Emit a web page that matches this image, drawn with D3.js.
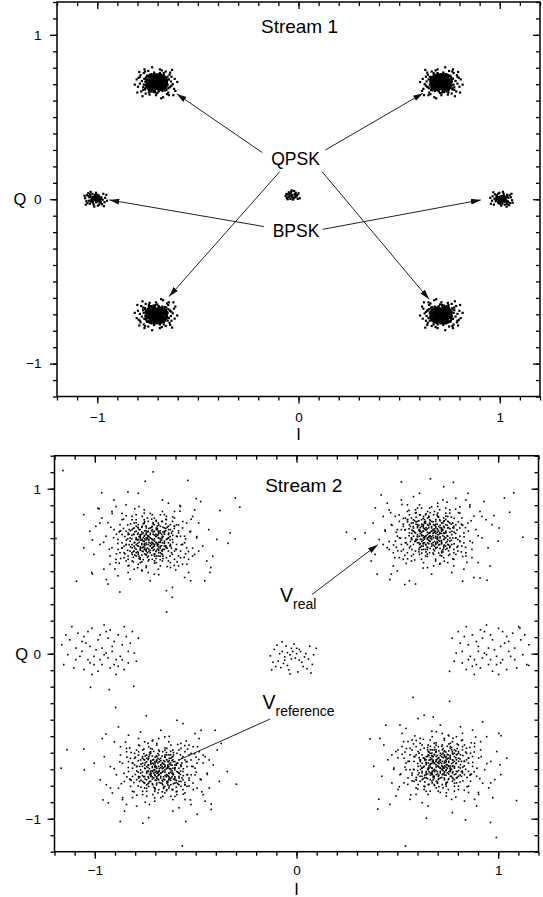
<!DOCTYPE html>
<html>
<head>
<meta charset="utf-8">
<script src="https://cdn.jsdelivr.net/npm/d3@7"></script>
<style>
  body { margin: 0; background: #fff; }
  svg { display: block; font-family: "Liberation Sans", Arial, sans-serif; }
  .tick line { stroke: #000; stroke-width: 1.3; }
  .frame { fill: none; stroke: #000; stroke-width: 1.5; }
  .arrow { stroke: #222; stroke-width: 1; fill: none; }
</style>
</head>
<body>
<svg id="chart" width="543" height="897"></svg>
<script>
// axis ticks
const majorTicks = [-1, 0, 1];
const axisDomain = [-1.2, 1.2];

// constellation points (centres in I/Q units)
const s1Qpsk = [[-0.708, 0.71], [0.71, 0.71], [-0.708, -0.704], [0.71, -0.704]];
const s1Bpsk = [[-1.009, 0.0], [1.01, 0.0]];
const s1Mid = [-0.03, 0.024];

const s2Qpsk = [[-0.725, 0.682], [0.67, 0.722], [-0.673, -0.704], [0.713, -0.673]];
const s2Bpsk = [[-0.974, 0.024], [0.962, 0.024]];
const s2Mid = [-0.019, -0.026];

// scatter around a cluster centre, in hundredths of a unit
const wideOffsets = [
  [2,-3],[-5,4],[8,1],[-1,-9],[12,-6],[-7,-2],[3,7],[-11,5],[0,2],[6,-12],
  [-4,-6],[9,9],[-14,-1],[1,-4],[-3,11],[15,3],[-8,8],[5,-7],[-2,-15],[10,-2],
  [-6,1],[4,4],[-9,-8],[13,10],[-1,6],[7,-5],[-16,-5],[2,14],[-12,-12],[18,-4],
  [0,-7],[-5,-11],[11,6],[-3,3],[6,12],[-10,2],[4,-17],[-18,7],[14,-9],[-2,-1],
  [8,-10],[-7,13],[1,9],[-13,-3],[16,-14],[-4,-18],[9,2],[-20,-9],[3,-1],[-9,15],
  [20,6],[-6,-14],[5,16],[-15,10],[12,14],[-1,-12],[7,8],[-11,-15],[17,-1],[-3,19],
  [2,-20],[-17,-13],[10,-16],[-8,4],[22,-8],[-22,3],[6,3],[-5,7],[13,-2],[-14,13],
  [1,1],[-2,5],[4,-2],[-6,-3],[3,-9],[-9,-4],[7,5],[-4,9],[10,7],[-7,-9],
  [5,0],[-3,-5],[0,8],[8,-4],[-10,-6],[11,1],[-1,-2],[6,-8],[-12,6],[2,10],
  [-8,-1],[9,-6],[-5,2],[4,11],[-13,-10],[14,5],[-2,-8],[12,-11],[-6,10],[3,-13],
  [24,11],[-25,-2],[19,-19],[-19,18],[26,-3],[-23,-17],[15,21],[-10,-23],[21,15],[-27,9],
  [0,-24],[9,23],[-16,-21],[28,-12],[-24,14],[17,-22],[-12,22],[23,2],[-28,-8],[6,25],
  [-1,3],[3,-6],[-7,6],[6,2],[-4,-4],[1,-11],[-10,0],[9,4],[-3,13],[11,-8],
  [2,6],[-6,-7],[7,-1],[-8,11],[5,9],[-11,-11],[13,3],[-2,-16],[15,-6],[-14,4],
  [4,-5],[-1,12],[10,-13],[-9,7],[8,13],[-15,-7],[16,8],[-5,-13],[1,16],[-12,-2],
  [30,-16],[-30,6],[25,24],[-21,-26],[11,-28],[-26,20],[29,7],[-18,25],[27,-24],[-29,-19],
  [3,3],[-3,0],[0,-3],[5,5],[-5,-5],[7,-3],[-7,1],[2,-8],[-2,8],[9,-1],
  [-4,15],[14,-15],[-16,1],[6,18],[-8,-17],[18,11],[-19,-4],[12,18],[-11,-19],[19,-11],
  [1,-1],[-1,1],[4,2],[-3,-2],[2,-5],[-5,3],[6,-1],[-6,5],[3,8],[-8,-6],
  [20,-24],[-20,-14],[22,19],[-17,21],[33,1],[-33,-4],[8,-30],[-6,29],[24,-6],[-25,11],
  [7,6],[-6,-8],[10,-3],[-11,4],[4,-9],[-3,11],[12,9],[-13,-7],[9,-12],[-9,13],
  [0,4],[5,-3],[-2,-6],[3,12],[-14,-4],[15,-10],[-7,16],[11,12],[-1,-19],[17,3],
  [1,7],[-4,1],[6,-6],[-9,-12],[2,-2],[-6,8],[13,-5],[-15,6],[8,15],[-11,-9],
  [-2,2],[4,6],[-8,-3],[10,10],[-5,-10],[16,-2],[-17,-11],[5,-15],[-3,17],[21,-9]
];

const sparseOffsets = [
  [2,3],[-5,-2],[8,6],[-10,4],[4,-7],[-3,9],[11,-3],[-8,-8],[1,-1],[6,1],
  [-12,-1],[14,8],[-6,6],[3,-11],[-15,-6],[9,-9],[-1,13],[17,2],[-18,9],[5,11],
  [-4,-13],[12,12],[-9,1],[0,6],[7,-5],[-13,11],[15,-4],[-7,-4],[2,-15],[10,4],
  [-2,0],[4,5],[-11,-10],[16,-11],[-16,3],[8,15],[-5,8],[13,-8],[-14,-14],[1,9],
  [6,-2],[-3,4],[9,10],[-9,-5],[3,2],[-1,-6],[11,6],[-6,-11],[18,7],[-19,-3],
  [0,-9],[-8,12],[5,-12],[14,1],[-12,6],[7,9],[-17,-9],[19,-7],[-4,15],[12,-14]
];

// stray points of stream 2 (I, Q)
const s2Stray = [
  [-1.158,1.11],[-0.711,1.102],[-0.539,1.05],[-0.75,1.045],[-0.966,0.975],[-0.836,0.981],
  [-0.497,0.94],[-0.303,0.944],[-0.281,0.888],[-0.38,0.868],[-1.055,0.843],[-0.979,0.878],
  [-1.193,0.698],[-1.012,0.69],[-0.339,0.669],[-0.329,0.732],[-0.415,0.59],[-0.429,0.493],
  [-1.012,0.483],[-1.091,0.439],[-0.943,0.449],[-0.876,0.374],[-0.616,0.342],[-0.644,0.253],
  [-0.578,0.898],[0.391,0.884],[0.248,0.736],[0.291,0.696],[0.52,1.041],[0.664,1.06],
  [0.778,1.039],[1.031,0.944],[1.077,0.975],[1.057,0.857],[0.979,0.837],[1.122,0.706],
  [1.005,0.762],[0.945,0.445],[0.91,0.459],[0.824,0.439],[0.537,0.419],[0.463,0.449],
  [1.108,0.156],[1.151,-0.071],[0.759,-0.107],[0.578,-0.265],[0.759,-0.289],[0.678,-0.384],
  [0.365,-0.516],[0.408,-0.882],[0.403,-0.942],[0.644,-0.997],[0.838,-1.007],[0.962,-1.023],
  [0.991,-1.114],[0.54,-1.165],[1.091,-0.89],[1.009,-0.673],[1.014,-0.497],[-0.566,-1.165],
  [-0.762,-1.027],[-0.874,-1.017],[-0.549,-1.017],[-0.492,-0.973],[-0.298,-0.791],[-0.423,-0.912],
  [-0.96,-0.886],[-1.052,-0.704],[-1.138,-0.582],[-1.167,-0.694],[-1.055,-0.578],[-0.945,-0.487],
  [-0.897,-0.326],[-0.745,-0.376],[-1.021,-0.204],[-0.928,-0.218],[-0.807,-0.198]
];

// each cluster: centre, offset table, spread, count, mirror
function cloud(center, table, spread, n, flip) {
  return table.slice(0, n).map(([dx, dy]) => [
    center[0] + flip[0] * dx * 0.01 * spread,
    center[1] + flip[1] * dy * 0.01 * spread
  ]);
}
const flips = [[1, 1], [-1, 1], [1, -1], [-1, -1]];

const stream1 = [].concat(
  ...s1Qpsk.map((c, i) => cloud(c, wideOffsets, 0.32, wideOffsets.length, flips[i])),
  ...s1Qpsk.map((c, i) => cloud(c, wideOffsets, 0.2, 120, flips[3 - i])),
  ...s1Bpsk.map((c, i) => cloud(c, sparseOffsets, 0.3, 50, flips[i + 1])),
  ...s1Bpsk.map((c, i) => cloud(c, sparseOffsets, 0.15, 20, flips[i])),
  cloud(s1Mid, sparseOffsets, 0.2, 30, flips[3])
);

const stream2 = [].concat(
  ...s2Qpsk.map((c, i) => cloud(c, wideOffsets, 1.0, wideOffsets.length, flips[i])),
  ...s2Qpsk.map((c, i) => cloud(c, wideOffsets, 0.7, wideOffsets.length, flips[3 - i])),
  ...s2Bpsk.map((c, i) => cloud(c, sparseOffsets, 1.0, sparseOffsets.length, flips[i + 2])),
  cloud(s2Mid, sparseOffsets, 0.65, 42, flips[1]),
  s2Stray
);

const panels = [
  {
    title: "Stream 1", points: stream1, dot: 2.2,
    x: [57, 540], y: [396.5, 2], padX: 8.5, padY: 8.5,
    titlePos: [299.5, 33.3], qPos: [20, 205], iPos: [298.5, 440],
    labels: [
      {text: "QPSK", x: 295.5, y: 165, size: 17.5},
      {text: "BPSK", x: 296, y: 236.5, size: 17.5}
    ],
    arrows: [
      [[-0.18, 0.284], [-0.605, 0.641]],
      [[0.134, 0.30], [0.619, 0.645]],
      [[-0.093, 0.168], [-0.643, -0.592]],
      [[0.117, 0.168], [0.649, -0.609]],
      [[-0.172, -0.166], [-0.94, -0.004]],
      [[0.12, -0.183], [0.906, -0.004]]
    ]
  },
  {
    title: "Stream 2", points: stream2, dot: 1.6,
    x: [54.5, 538.5], y: [851.7, 455.7], padX: 6.5, padY: 7,
    titlePos: [303.7, 491.5], qPos: [21.6, 660], iPos: [296.5, 895],
    arrows: [[[0.076, 0.358], [0.403, 0.661]]],
    lines: [[[-0.131, -0.396], [-0.585, -0.645]]]
  }
];

const svg = d3.select("#chart");

svg.append("defs").append("marker")
  .attr("id", "head")
  .attr("viewBox", "0 0 10 6")
  .attr("refX", 10).attr("refY", 3)
  .attr("markerUnits", "userSpaceOnUse")
  .attr("markerWidth", 10).attr("markerHeight", 6)
  .attr("orient", "auto")
  .append("path")
  .attr("d", "M0,0 L10,3 L0,6 Z")
  .attr("fill", "#111");

panels.forEach(p => {
  const x = d3.scaleLinear().domain(axisDomain).range(p.x);
  const y = d3.scaleLinear().domain(axisDomain).range(p.y);
  const minor = x.ticks(24);
  const g = svg.append("g");

  // bottom / left: outward ticks with labels
  const bottom = g.append("g").attr("transform", `translate(0,${p.y[0]})`);
  bottom.append("g").call(d3.axisBottom(x).tickValues(minor).tickSize(4).tickFormat(""));
  bottom.append("g").call(d3.axisBottom(x).tickValues(majorTicks).tickSize(7).tickPadding(p.padY).tickFormat(d3.format("d")));

  const left = g.append("g").attr("transform", `translate(${p.x[0]},0)`);
  left.append("g").call(d3.axisLeft(y).tickValues(minor).tickSize(4).tickFormat(""));
  left.append("g").call(d3.axisLeft(y).tickValues(majorTicks).tickSize(7).tickPadding(p.padX).tickFormat(d3.format("d")));

  // top / right: inward ticks only
  const top = g.append("g").attr("transform", `translate(0,${p.y[1]})`);
  top.append("g").call(d3.axisTop(x).tickValues(minor).tickSize(-4).tickFormat(""));
  top.append("g").call(d3.axisTop(x).tickValues(majorTicks).tickSize(-7).tickFormat(""));

  const right = g.append("g").attr("transform", `translate(${p.x[1]},0)`);
  right.append("g").call(d3.axisRight(y).tickValues(minor).tickSize(-4).tickFormat(""));
  right.append("g").call(d3.axisRight(y).tickValues(majorTicks).tickSize(-7).tickFormat(""));

  g.selectAll(".domain").remove();
  g.selectAll("g").attr("font-family", null).attr("font-size", null);
  g.selectAll(".tick text").style("font-size", "13.5px").attr("fill", "#000");

  g.append("rect")
    .attr("class", "frame")
    .attr("x", p.x[0]).attr("y", p.y[1])
    .attr("width", p.x[1] - p.x[0]).attr("height", p.y[0] - p.y[1]);

  // points
  g.append("g")
    .selectAll("rect")
    .data(p.points)
    .join("rect")
    .attr("x", d => x(d[0]) - p.dot / 2)
    .attr("y", d => y(d[1]) - p.dot / 2)
    .attr("width", p.dot)
    .attr("height", p.dot)
    .attr("fill", "#000");

  // arrows
  g.selectAll(".arrow-line")
    .data(p.arrows)
    .join("line")
    .attr("class", "arrow")
    .attr("x1", d => x(d[0][0])).attr("y1", d => y(d[0][1]))
    .attr("x2", d => x(d[1][0])).attr("y2", d => y(d[1][1]))
    .attr("marker-end", "url(#head)");

  if (p.lines) {
    g.selectAll(".plain-line")
      .data(p.lines)
      .join("line")
      .attr("class", "arrow")
      .attr("x1", d => x(d[0][0])).attr("y1", d => y(d[0][1]))
      .attr("x2", d => x(d[1][0])).attr("y2", d => y(d[1][1]));
  }

  // texts
  g.append("text")
    .attr("x", p.titlePos[0]).attr("y", p.titlePos[1])
    .attr("text-anchor", "middle").attr("font-size", 19)
    .text(p.title);

  g.append("text")
    .attr("x", p.qPos[0]).attr("y", p.qPos[1])
    .attr("text-anchor", "middle").attr("font-size", 16.5)
    .text("Q");

  g.append("text")
    .attr("x", p.iPos[0]).attr("y", p.iPos[1])
    .attr("text-anchor", "middle").attr("font-size", 16.5)
    .text("I");

  (p.labels || []).forEach(l => {
    g.append("text")
      .attr("x", l.x).attr("y", l.y)
      .attr("text-anchor", "middle").attr("font-size", l.size)
      .text(l.text);
  });
});

// V labels of stream 2
const vLabels = [
  {sub: "real", x: 280, y: 601.7},
  {sub: "reference", x: 262.5, y: 708.5}
];
vLabels.forEach(v => {
  const t = svg.append("text").attr("x", v.x).attr("y", v.y).attr("font-size", 19.5);
  t.append("tspan").text("V");
  t.append("tspan").attr("dy", 7.5).attr("font-size", 14).text(v.sub);
});
</script>
</body>
</html>
